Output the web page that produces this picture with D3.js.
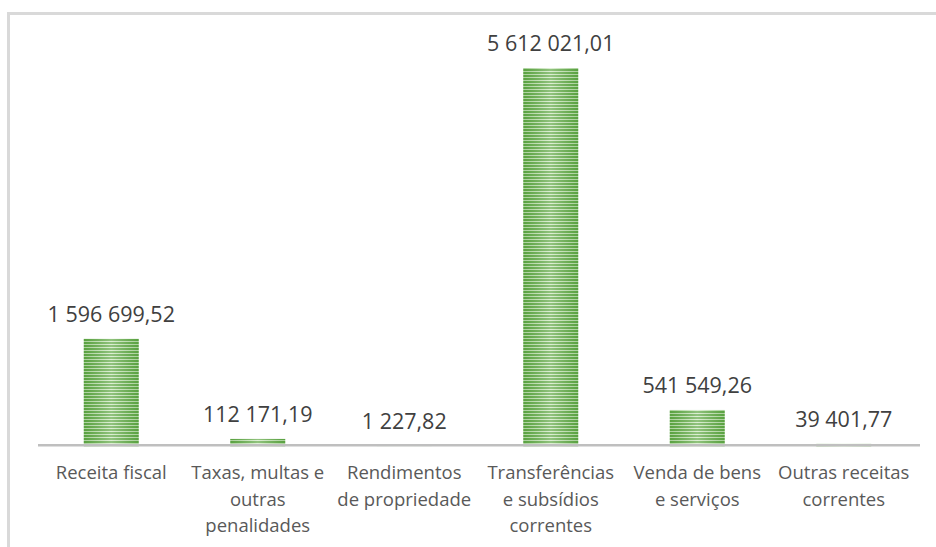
<!DOCTYPE html>
<html>
<head>
<meta charset="utf-8">
<script src="https://cdn.jsdelivr.net/npm/d3@7"></script>
<style>
  body { margin: 0; background: #fff; }
  svg { display: block; }
</style>
</head>
<body>
<div class="chart"></div>
<script>
const WIDTH = 936
const HEIGHT = 547

// données
const categorias = ["Receita fiscal", "Taxas, multas e outras penalidades", "Rendimentos de propriedade",
  "Transferências e subsídios correntes", "Venda de bens e serviços", "Outras receitas correntes"]
const linhas = [["Receita fiscal"], ["Taxas, multas e", "outras", "penalidades"], ["Rendimentos", "de propriedade"],
  ["Transferências", "e subsídios", "correntes"], ["Venda de bens", "e serviços"], ["Outras receitas", "correntes"]]
const valores = [1596699.52, 112171.19, 1227.82, 5612021.01, 541549.26, 39401.77]
const rotulos = ["1 596 699,52", "112 171,19", "1 227,82", "5 612 021,01", "541 549,26", "39 401,77"]

const svg = d3.select(".chart")
  .append("svg")
  .attr("width", WIDTH)
  .attr("height", HEIGHT)

const defs = svg.append("defs")

// rayures horizontales
const pat = defs.append("pattern")
  .attr("id", "stripes")
  .attr("patternUnits", "userSpaceOnUse")
  .attr("width", 10)
  .attr("height", 3)
pat.append("rect").attr("width", 10).attr("height", 3).attr("fill", "#cfe8c2")
pat.append("rect").attr("width", 10).attr("height", 2).attr("fill", "#62a947")

const grad = defs.append("linearGradient")
  .attr("id", "shine")
  .attr("x1", "0").attr("x2", "1").attr("y1", "0").attr("y2", "0")
grad.append("stop").attr("offset", "0%").attr("stop-color", "#3d8a2a").attr("stop-opacity", 0.25)
grad.append("stop").attr("offset", "50%").attr("stop-color", "#ffffff").attr("stop-opacity", 0.3)
grad.append("stop").attr("offset", "100%").attr("stop-color", "#3d8a2a").attr("stop-opacity", 0.25)

// bordure du cadre
svg.append("path")
  .attr("d", "M8.5,547 V13.5 H936")
  .attr("fill", "none")
  .attr("stroke", "#d9d9d9")
  .attr("stroke-width", 3)

const x = d3.scaleBand()
  .domain(categorias)
  .range([38, 917])
  .paddingInner(0.625)
  .paddingOuter(0.3125)

const y = d3.scaleLinear()
  .domain([0, d3.max(valores)])
  .range([446.5, 68])

const barras = svg.append("g")
barras.selectAll("rect.bar")
  .data(valores)
  .join("rect")
    .attr("class", "bar")
    .attr("x", (d, i) => x(categorias[i]))
    .attr("y", d => y(d))
    .attr("width", x.bandwidth())
    .attr("height", d => y(0) - y(d))
    .attr("fill", "url(#stripes)")
barras.selectAll("rect.shine")
  .data(valores)
  .join("rect")
    .attr("class", "shine")
    .attr("x", (d, i) => x(categorias[i]))
    .attr("y", d => y(d))
    .attr("width", x.bandwidth())
    .attr("height", d => y(0) - y(d))
    .attr("fill", "url(#shine)")

// axe (par-dessus le pied des barres)
svg.append("line")
  .attr("x1", 38).attr("x2", 920)
  .attr("y1", 445.3).attr("y2", 445.3)
  .attr("stroke", "#bfbfbf")
  .attr("stroke-width", 2.6)

// valeurs
svg.append("g").selectAll("text")
  .data(valores)
  .join("text")
    .attr("x", (d, i) => x(categorias[i]) + x.bandwidth() / 2)
    .attr("y", d => y(d) - 17)
    .attr("text-anchor", "middle")
    .attr("font-family", "Open Sans")
    .attr("font-size", 21.5)
    .attr("fill", "#404040")
    .text((d, i) => rotulos[i])

// catégories
const cats = svg.append("g").selectAll("text")
  .data(categorias)
  .join("text")
    .attr("x", d => x(d) + x.bandwidth() / 2)
    .attr("y", 479)
    .attr("text-anchor", "middle")
    .attr("font-family", "Open Sans")
    .attr("font-size", 18.5)
    .attr("fill", "#595959")
cats.selectAll("tspan")
  .data((d, i) => linhas[i])
  .join("tspan")
    .attr("x", function () { return this.parentNode.getAttribute("x") })
    .attr("dy", (d, j) => j === 0 ? 0 : 26.5)
    .text(d => d)
</script>
</body>
</html>
